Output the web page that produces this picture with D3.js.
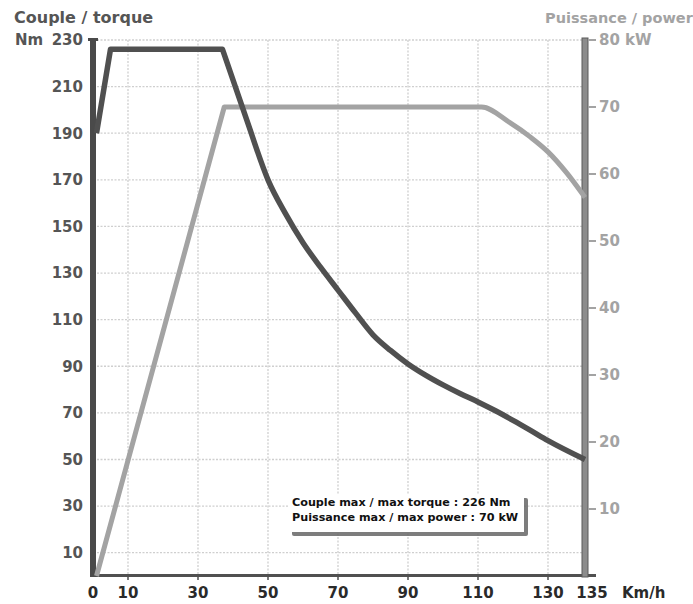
<!DOCTYPE html>
<html>
<head>
<meta charset="utf-8">
<script src="https://cdn.jsdelivr.net/npm/d3@7"></script>
<style>
  html, body { margin: 0; padding: 0; background: #fff; }
  svg { display: block; font-family: "DejaVu Sans", sans-serif; font-weight: bold; }
</style>
</head>
<body>
<svg id="chart" width="693" height="604"></svg>
<script>
// Speed (km/h) vs torque (Nm)
const torqueSpeed = [1, 5, 37, 45, 50, 55, 60, 65, 70, 75, 80, 85, 90, 95, 100, 105, 110, 115, 120, 125, 130, 135];
const torqueNm    = [190, 226, 226, 191, 170, 155.5, 143, 132.5, 122.7, 112.9, 103.5, 96.8, 91, 86.2, 82, 78.2, 74.7, 70.9, 66.8, 62.5, 58.1, 50];

// Speed (km/h) vs power (kW)
const powerSpeed = [1, 37.5, 111, 119, 125, 130, 132.5, 135];
const powerKw    = [0, 70, 70, 67.7, 65.5, 63.3, 60.2, 56.5];

// Axis ticks
const speedTicks  = [0, 10, 30, 50, 70, 90, 110, 130, 135];
const gridSpeeds  = [10, 30, 50, 70, 90, 110, 130];
const torqueTicks = [10, 30, 50, 70, 90, 110, 130, 150, 170, 190, 210, 230];
const powerTicks  = [10, 20, 30, 40, 50, 60, 70, 80];

const legendLines = [
  "Couple max / max torque : 226 Nm",
  "Puissance max / max power : 70 kW"
];

const svg = d3.select("#chart");

const x  = d3.scaleLinear().domain([0, 130, 135]).range([93, 548, 585]);
const yT = d3.scaleLinear().domain([0, 230]).range([576, 40]);
const yP = d3.scaleLinear().domain([0, 80]).range([576, 40]);

const dark = "#505050", light = "#a3a3a3";

// Grid
const grid = svg.append("g").attr("stroke", "#cfcfcf").attr("stroke-width", 1.3)
  .attr("stroke-dasharray", "2,1.5");
grid.selectAll(".h").data(torqueTicks).join("line")
  .attr("x1", 97).attr("x2", 582)
  .attr("y1", d => yT(d)).attr("y2", d => yT(d));
grid.selectAll(".v").data(gridSpeeds).join("line")
  .attr("x1", d => x(d)).attr("x2", d => x(d))
  .attr("y1", yT(230)).attr("y2", 574);

// Bottom axis
svg.append("line").attr("x1", 90).attr("x2", 596).attr("y1", 575.5).attr("y2", 575.5)
  .attr("stroke", dark).attr("stroke-width", 3);
svg.append("g").selectAll("line").data(speedTicks.filter(d => d > 0 && d < 135)).join("line")
  .attr("x1", d => x(d)).attr("x2", d => x(d)).attr("y1", 576).attr("y2", 580)
  .attr("stroke", dark).attr("stroke-width", 1.5);
svg.append("g").selectAll("text").data(speedTicks).join("text")
  .attr("x", d => d === 135 ? x(d) + 7 : x(d)).attr("y", 598)
  .attr("text-anchor", "middle").attr("font-size", 15).attr("fill", "#2a2a2a")
  .text(d => d);
svg.append("text").attr("x", 622).attr("y", 598).attr("font-size", 15)
  .attr("fill", "#2a2a2a").text("Km/h");

// Left axis (torque)
svg.append("rect").attr("x", 90).attr("y", 38).attr("width", 6).attr("height", 539)
  .attr("fill", "#4a4a4a");
svg.append("line").attr("x1", 88).attr("x2", 98).attr("y1", 39.5).attr("y2", 39.5)
  .attr("stroke", "#4a4a4a").attr("stroke-width", 3);
svg.append("g").selectAll("text").data(torqueTicks).join("text")
  .attr("x", 83).attr("y", d => yT(d)).attr("dy", "0.36em")
  .attr("text-anchor", "end").attr("font-size", 15).attr("fill", "#555")
  .text(d => d);
svg.append("text").attr("x", 15).attr("y", yT(230)).attr("dy", "0.36em")
  .attr("font-size", 15).attr("fill", "#555").text("Nm");
svg.append("text").attr("x", 14).attr("y", 23).attr("font-size", 16)
  .attr("fill", "#555").text("Couple / torque");

// Right axis (power)
svg.append("rect").attr("x", 582).attr("y", 38).attr("width", 6).attr("height", 539)
  .attr("fill", "#8c8c8c").attr("stroke", "#5a5a5a").attr("stroke-width", 1);
svg.append("g").selectAll("line").data(powerTicks).join("line")
  .attr("x1", 588).attr("x2", 596).attr("y1", d => yP(d)).attr("y2", d => yP(d))
  .attr("stroke", light).attr("stroke-width", 2);
svg.append("g").selectAll("text").data(powerTicks).join("text")
  .attr("x", 599).attr("y", d => yP(d)).attr("dy", "0.36em")
  .attr("font-size", 15).attr("fill", light)
  .text(d => d === 80 ? "80 kW" : d);
svg.append("text").attr("x", 545).attr("y", 23).attr("font-size", 14.5)
  .attr("fill", light).text("Puissance / power");

// Curves: straight ramps, smooth sections after the given index
function pathOf(pts, y, splitAt) {
  const straight = d3.line().x(d => x(d[0])).y(d => y(d[1]));
  const smooth = d3.line().x(d => x(d[0])).y(d => y(d[1])).curve(d3.curveMonotoneX);
  const a = straight(pts.slice(0, splitAt + 1));
  const b = smooth(pts.slice(splitAt));
  return a + "L" + b.slice(1);
}

const torquePts = torqueSpeed.map((s, i) => [s, torqueNm[i]]);
const powerPts  = powerSpeed.map((s, i) => [s, powerKw[i]]);

svg.append("path")
  .attr("d", pathOf(powerPts, yP, 1))
  .attr("fill", "none").attr("stroke", light).attr("stroke-width", 5)
  .attr("stroke-linejoin", "round");
svg.append("path")
  .attr("d", pathOf(torquePts, yT, 3))
  .attr("fill", "none").attr("stroke", dark).attr("stroke-width", 5.5)
  .attr("stroke-linejoin", "round");

// Legend box with drop shadow
const lg = svg.append("g");
lg.append("rect").attr("x", 292).attr("y", 498).attr("width", 236).attr("height", 38)
  .attr("rx", 2).attr("fill", "#666").attr("opacity", 0.85);
lg.append("rect").attr("x", 288).attr("y", 494).attr("width", 236).attr("height", 38)
  .attr("fill", "#fff");
lg.selectAll("text").data(legendLines).join("text")
  .attr("x", 292).attr("y", (d, i) => 506 + i * 15)
  .attr("font-size", 11.2).attr("fill", "#111").text(d => d);
</script>
</body>
</html>
